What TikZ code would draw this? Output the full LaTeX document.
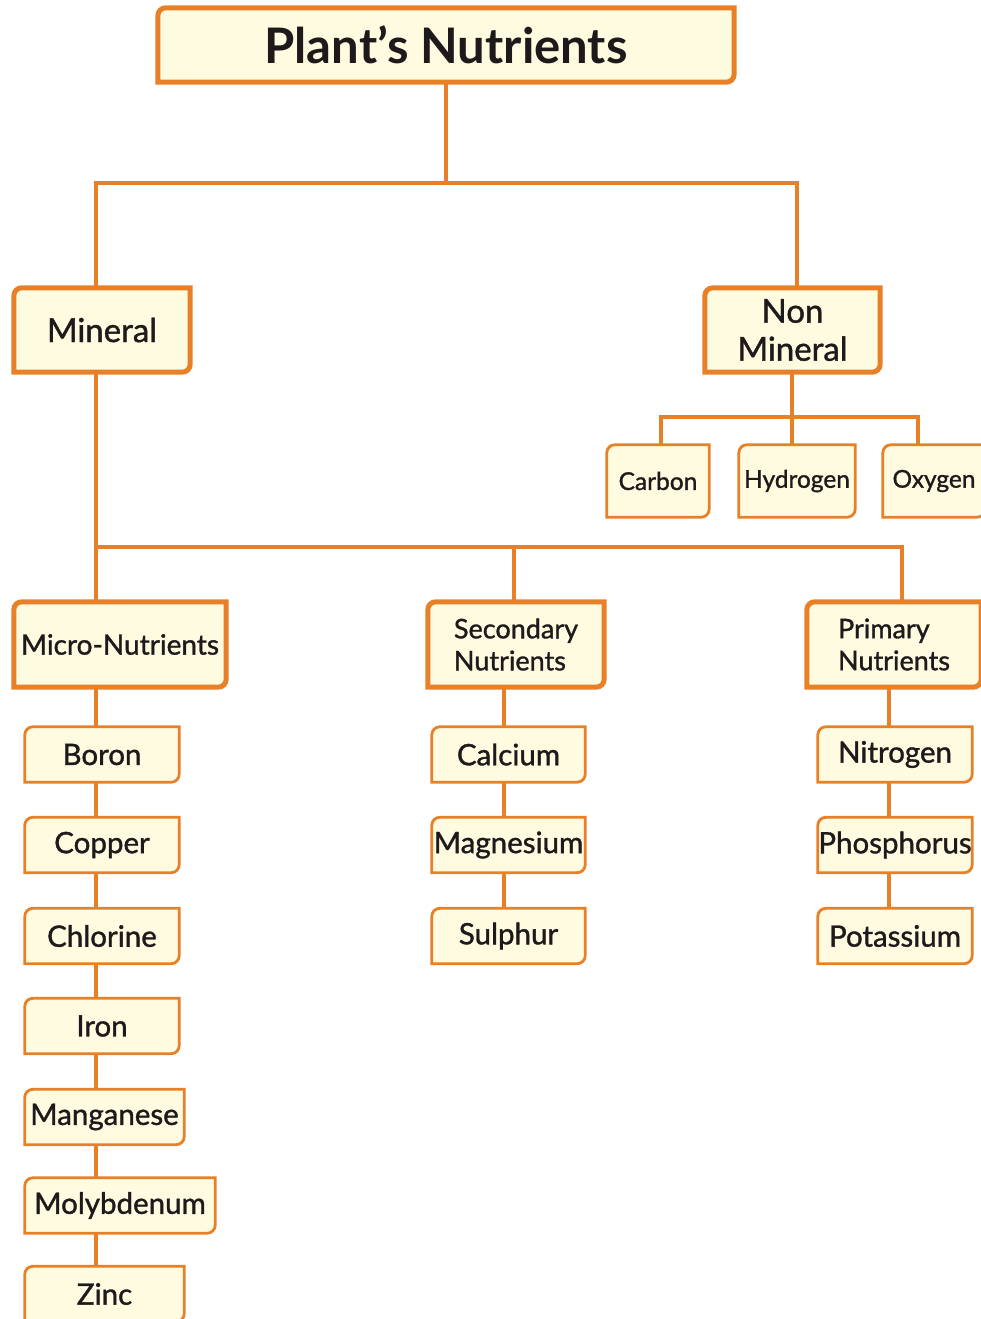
\documentclass[tikz,border=0pt]{standalone}
\usepackage{fontspec}
\setmainfont{Lato}
\newfontfamily\nutfont{Lato}[FakeBold=1.2]
\usepackage{tikz}
\usetikzlibrary{backgrounds,calc,positioning}
\definecolor{nutorange}{RGB}{232,128,40}
\definecolor{nutcream}{RGB}{254,251,224}
\definecolor{nutink}{RGB}{30,26,27}
% box outline: rounded top left and bottom right corners
\newcommand\nutshape[2]{%
  \path[#1] ([yshift=-8pt]#2.north west) arc[start angle=180,end angle=90,radius=8pt]
    -- (#2.north east) -- ([yshift=8pt]#2.south east) arc[start angle=0,end angle=-90,radius=8pt]
    -- (#2.south west) -- cycle;}

\begin{document}
\begin{tikzpicture}[x=1pt,y=-1pt,
    box/.style={inner sep=0pt,text=nutink,minimum height=84pt},
    leaf/.style={inner sep=0pt,text=nutink,minimum height=55pt,font=\nutfont\fontsize{29.5}{32}\selectfont},
    gas/.style={inner sep=0pt,text=nutink,minimum height=72pt,font=\nutfont\fontsize{24.5}{26}\selectfont},
    link/.style={draw=nutorange,line width=4pt},
    heavyline/.style={draw=nutorange,fill=nutcream,line width=5pt},
    thinline/.style={draw=nutorange,fill=nutcream,line width=2.8pt}]
  \useasboundingbox (0,0) rectangle (981,1319);

  % top levels
  \node[box,minimum width=576pt,minimum height=74pt,font=\fontsize{49}{60}\selectfont\bfseries] (title) at (446,45) {Plant’s Nutrients};
  \node[box,minimum width=176pt,font=\nutfont\fontsize{33}{38}\selectfont] (mineral) at (102,330) {Mineral};
  \node[box,minimum width=175pt,align=center,font=\nutfont\fontsize{33}{38}\selectfont] (nonmin) at (792.5,330) {Non\\Mineral};

  % non mineral
  \node[gas,minimum width=102pt] (carbon) at (658,481) {Carbon};
  \node[gas,minimum width=116pt] (hydrogen) at (797,481) {Hydrogen};
  \node[gas,minimum width=102pt] (oxygen) at (934,481) {Oxygen};

  % mineral groups
  \node[box,minimum width=212pt,minimum height=85pt,font=\nutfont\fontsize{28}{32}\selectfont] (micro) at (120,644.5) {Micro-Nutrients};
  \node[box,minimum width=176pt,minimum height=85pt,align=left,font=\nutfont\fontsize{27}{32}\selectfont] (secondary) at (516,644.5) {Secondary\\Nutrients};
  \node[box,minimum width=174pt,minimum height=85pt,align=left,font=\nutfont\fontsize{27}{32}\selectfont] (primary) at (894,644.5) {Primary\\Nutrients};

  \node[leaf,minimum width=154pt] (boron) at (102,754.5) {Boron};
  \node[leaf,minimum width=154pt] (copper) at (102,845) {Copper};
  \node[leaf,minimum width=154pt] (chlorine) at (102,936) {Chlorine};
  \node[leaf,minimum width=154pt] (iron) at (102,1026) {Iron};
  \node[leaf,minimum width=159pt] (manganese) at (104.5,1117) {Manganese};
  \node[leaf,minimum width=190pt] (molybdenum) at (120,1205.5) {Molybdenum};
  \node[leaf,minimum width=159pt] (zinc) at (104.5,1294) {Zinc};

  \node[leaf,minimum width=153pt] (calcium) at (508.5,754.5) {Calcium};
  \node[leaf,minimum width=153pt] (magnesium) at (508.5,845) {Magnesium};
  \node[leaf,minimum width=153pt] (sulphur) at (508.5,936) {Sulphur};

  \node[leaf,minimum width=154pt] (nitrogen) at (895,754.5) {Nitrogen};
  \node[leaf,minimum width=154pt] (phosphorus) at (895,845) {Phosphorus};
  \node[leaf,minimum width=154pt] (potassium) at (895,936) {Potassium};

  \begin{scope}[on background layer]
    \foreach \n in {title,mineral,nonmin,micro,secondary,primary}
      \nutshape{heavyline}{\n};
    \foreach \n in {carbon,hydrogen,oxygen,boron,copper,chlorine,iron,manganese,molybdenum,zinc,calcium,magnesium,sulphur,nitrogen,phosphorus,potassium}
      \nutshape{thinline}{\n};
  \end{scope}

  % connectors
  \coordinate (leftcol) at (96,0);
  \coordinate (midcol) at (504,0);
  \coordinate (rightcol) at (889,0);
  \coordinate (rootbar) at (446,183);
  \coordinate (gasbar) at (792,417);
  \coordinate (catbar) at (514,547);

  \draw[link] (title.south) -- (rootbar);
  \draw[link] (mineral.north -| leftcol) |- (rootbar) -| ([xshift=4pt]nonmin.north);
  \draw[link] (nonmin.south -| gasbar) -- (gasbar);
  \draw[link] ([xshift=3pt]carbon.north) |- (gasbar) -| ([xshift=-16pt]oxygen.north);
  \draw[link] (gasbar) -- (hydrogen.north -| gasbar);
  \draw[link] (mineral.south -| leftcol) |- (catbar) -| ([xshift=8pt]primary.north);
  \draw[link] (catbar) -- (secondary.north -| catbar);
  \draw[link] (catbar -| leftcol) -- (micro.north -| leftcol);

  \foreach \a/\b in {micro/boron,boron/copper,copper/chlorine,chlorine/iron,iron/manganese,manganese/molybdenum,molybdenum/zinc}
    \draw[link] (\a.south -| leftcol) -- (\b.north -| leftcol);
  \foreach \a/\b in {secondary/calcium,calcium/magnesium,magnesium/sulphur}
    \draw[link] (\a.south -| midcol) -- (\b.north -| midcol);
  \foreach \a/\b in {primary/nitrogen,nitrogen/phosphorus,phosphorus/potassium}
    \draw[link] (\a.south -| rightcol) -- (\b.north -| rightcol);
\end{tikzpicture}
\end{document}
